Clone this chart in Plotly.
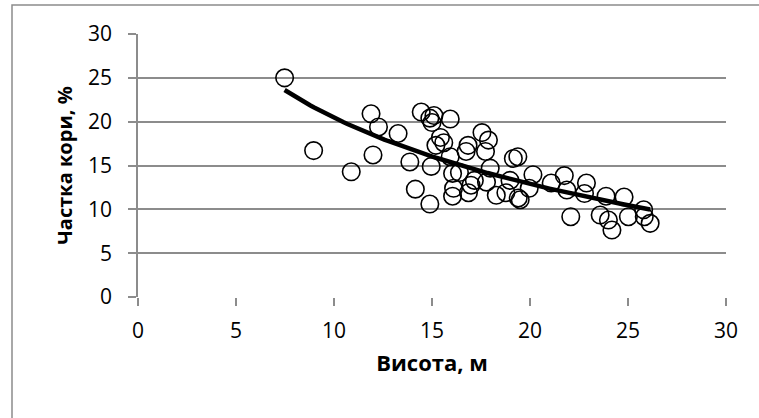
import numpy as np
import plotly.graph_objects as go

# Висота, м
height_m = [7.48, 8.96, 10.88, 11.89, 11.99, 12.27, 13.27, 13.87, 14.15, 14.45,
            14.89, 14.96, 14.89, 15.0, 15.1, 15.2, 15.43, 15.6, 15.93, 15.93,
            16.05, 16.1, 16.05, 16.4, 16.74, 16.84, 16.86, 16.99, 17.16, 17.55,
            17.73, 17.88, 17.78, 17.97, 18.28, 18.77, 18.98, 19.15, 19.38, 19.4,
            19.5, 19.96, 20.15, 21.08, 21.75, 21.88, 22.08, 22.88, 22.78, 23.58,
            23.88, 24.0, 24.18, 24.8, 25.02, 25.8, 25.83, 26.13]
# Частка кори, %
bark_pct = [25.0, 16.7, 14.28, 20.9, 16.2, 19.4, 18.65, 15.4, 12.3, 21.1,
            10.6, 14.9, 20.4, 19.9, 20.7, 17.3, 18.2, 17.6, 20.3, 16.0,
            14.1, 12.4, 11.5, 14.2, 16.6, 17.3, 11.9, 12.75, 13.3, 18.75,
            16.6, 17.9, 13.1, 14.7, 11.6, 11.9, 13.3, 15.8, 16.0, 11.3,
            11.1, 12.4, 13.95, 13.0, 13.85, 12.2, 9.16, 13.0, 11.8, 9.35,
            11.5, 8.78, 7.64, 11.4, 9.16, 9.95, 9.16, 8.4]

x_ticks = [0, 5, 10, 15, 20, 25, 30]
y_ticks = [0, 5, 10, 15, 20, 25, 30]

# logarithmic trend line fitted to the data (as in the source spreadsheet)
xs = np.array(height_m)
ys = np.array(bark_pct)
b, a = np.polyfit(np.log(xs), ys, 1)
trend_x = np.linspace(xs.min(), xs.max(), 100)
trend_y = a + b * np.log(trend_x)

grid_col = "#8c8c8c"
FONT = "Open Sans, Noto Sans, DejaVu Sans, sans-serif"

fig = go.Figure()
fig.add_trace(go.Scatter(
    x=height_m, y=bark_pct, mode="markers",
    marker=dict(symbol="circle-open", size=17.5, color="black",
                line=dict(width=1.6, color="black")),
    hoverinfo="x+y", showlegend=False))
fig.add_trace(go.Scatter(
    x=trend_x, y=trend_y, mode="lines",
    line=dict(color="black", width=4.5), showlegend=False, hoverinfo="skip"))

L, R, T, B = 138, 33, 34, 121
W, H = 759, 418
pw = W - L - R
ph = H - T - B

fig.update_layout(
    width=W, height=H,
    margin=dict(l=L, r=R, t=T, b=B, pad=0),
    paper_bgcolor="white", plot_bgcolor="white",
    font=dict(family=FONT, color="black", size=21),
    xaxis=dict(range=[0, 30], tickvals=x_ticks, ticktext=[str(v) for v in x_ticks],
               showgrid=False, zeroline=False,
               showline=False,
               ticks="outside", ticklen=8, tickwidth=1.5, tickcolor=grid_col,
               tickfont=dict(size=21, family=FONT),
               ticklabelstandoff=7,
               title=dict(text="<b>Висота, м</b>", font=dict(size=22, family=FONT),
                          standoff=12)),
    yaxis=dict(range=[0, 30], tickvals=y_ticks, ticktext=[str(v) for v in y_ticks],
               showgrid=True, gridcolor=grid_col, gridwidth=1.5,
               zeroline=False, showline=True, linecolor=grid_col, linewidth=1.5,
               ticks="outside", ticklen=8, tickwidth=1.5, tickcolor=grid_col,
               tickfont=dict(size=21, family=FONT),
               ticklabelstandoff=12,
               title=dict(text="<b>Частка кори, %</b>", font=dict(size=20, family=FONT),
                          standoff=10)),
    shapes=[
        dict(type="rect", xref="paper", yref="paper",
             x0=(12 - L) / pw, x1=(W + 20 - L) / pw,
             y0=(H - B - (H + 20)) / ph, y1=(H - B - 5) / ph,
             line=dict(color=grid_col, width=1.5), fillcolor="rgba(0,0,0,0)",
             layer="below"),
    ],
)

fig.write_html("out.html")
